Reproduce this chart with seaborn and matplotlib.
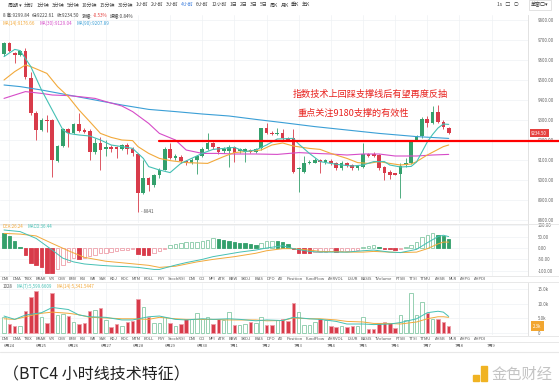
import numpy as np
import pandas as pd
import matplotlib
matplotlib.use("Agg")
import matplotlib.pyplot as plt
import matplotlib.transforms as mtransforms
from matplotlib.lines import Line2D
from matplotlib.patches import Rectangle
import seaborn as sns

# BTC 4h candles, 6/24 - 7/8
opens = [9630, 9687, 9637, 9623, 9647, 9508, 9333, 9250, 9302, 9300,
         9097, 9170, 9253, 9237, 9280, 9250, 9247, 9142, 9183, 9153,
         9163, 9163, 9157, 9173, 9157, 9130, 8937, 9010, 8973, 9023,
         9050, 9157, 9110, 9117, 9093, 9087, 9100, 9120, 9157, 9187,
         9163, 9143, 9147, 9163, 9143, 9140, 9150, 9140, 9158, 9258,
         9237, 9230, 9237, 9208, 9208, 9053, 9042, 9087, 9087, 9100,
         9092, 9097, 9083, 9058, 9083, 9075, 9058, 9063, 9130, 9130,
         9125, 9063, 9042, 9033, 9030, 9073, 9087, 9200, 9220, 9303,
         9287, 9342, 9292, 9258]
highs = [9692, 9692, 9640, 9650, 9660, 9541, 9345, 9310, 9325, 9305,
         9175, 9262, 9262, 9285, 9335, 9262, 9255, 9210, 9217, 9200,
         9175, 9170, 9180, 9185, 9165, 9137, 9100, 9015, 9030, 9060,
         9165, 9185, 9130, 9125, 9100, 9110, 9125, 9165, 9233, 9190,
         9165, 9165, 9175, 9170, 9160, 9160, 9155, 9160, 9262, 9285,
         9245, 9260, 9253, 9215, 9253, 9065, 9120, 9100, 9110, 9105,
         9105, 9105, 9090, 9095, 9090, 9080, 9075, 9183, 9135, 9140,
         9130, 9068, 9050, 9035, 9085, 9110, 9200, 9225, 9315, 9320,
         9370, 9377, 9300, 9265]
lows = [9620, 9640, 9587, 9620, 9503, 9325, 9200, 9245, 9240, 9017,
        9090, 9165, 9167, 9230, 9240, 9235, 9100, 9130, 9050, 9120,
        9140, 9108, 9150, 9130, 9120, 8841, 8930, 8945, 8965, 9010,
        9050, 9105, 9100, 9085, 9075, 9080, 9030, 9115, 9150, 9155,
        9130, 9135, 9067, 9090, 9135, 9090, 9135, 9135, 9150, 9230,
        9225, 9225, 9200, 9195, 9033, 8942, 9035, 9080, 9083, 9033,
        9080, 9075, 9050, 9050, 9065, 9050, 9050, 9060, 9115, 9115,
        9050, 9000, 9005, 9025, 8908, 9065, 9080, 9195, 9210, 9265,
        9280, 9285, 9255, 9228]
closes = [9687, 9647, 9623, 9647, 9517, 9333, 9250, 9300, 9297, 9100,
          9170, 9253, 9237, 9280, 9247, 9242, 9142, 9183, 9150, 9167,
          9157, 9157, 9173, 9157, 9133, 8937, 9010, 8973, 9023, 9050,
          9157, 9110, 9120, 9093, 9083, 9100, 9120, 9157, 9187, 9163,
          9140, 9157, 9167, 9137, 9157, 9153, 9140, 9153, 9258, 9237,
          9230, 9237, 9208, 9200, 9042, 9060, 9083, 9092, 9100, 9090,
          9100, 9083, 9058, 9087, 9070, 9058, 9070, 9130, 9120, 9120,
          9058, 9033, 9025, 9027, 9070, 9087, 9192, 9220, 9303, 9287,
          9342, 9292, 9267, 9234.5]
volume_k = [5.3, 3.0, 2.3, 2.3, 7.6, 12.2, 14.5, 5.5, 3.5, 13.8,
            6.1, 6.4, 5.8, 3.7, 3.0, 3.5, 7.6, 7.8, 8.4, 4.4,
            2.1, 3.0, 2.3, 3.7, 3.9, 11.7, 9.0, 5.3, 3.5, 3.5,
            5.5, 3.5, 2.3, 3.0, 4.6, 4.6, 6.7, 4.6, 5.3, 3.0,
            4.6, 4.4, 7.1, 2.8, 2.5, 3.0, 3.7, 3.5, 5.3, 2.8,
            2.5, 4.4, 4.6, 4.1, 10.4, 7.1, 2.6, 2.6, 3.7, 4.6,
            4.4, 2.3, 1.8, 2.3, 1.8, 2.3, 2.3, 5.5, 1.4, 1.4,
            3.5, 3.7, 3.2, 1.5, 6.0, 4.4, 13.8, 6.0, 10.6, 6.7,
            4.8, 4.8, 3.7, 2.3]
macd_hist = [67, 53, 32, 6, -32, -67, -76, -82, -108, -111,
             -94, -73, -61, -45, -48, -44, -35, -29, -23, -20,
             -18, -12, -8, -7, -6, -26, -29, -30, -23, -15,
             -6, 12, 18, 23, 25, 26, 27, 29, 35, 43,
             41, 35, 29, 28, 23, 20, 18, 12, 20, 29,
             32, 31, 26, 18, -4, -20, -23, -24, -18, -17,
             -16, -15, -16, -15, -12, -11, -9, 3, 9, 12,
             3, -3, -6, -9, -6, 3, 12, 26, 47, 56,
             64, 58, 53, 38]

# moving averages (candle index -> value)
ma7_idx = [0, 2, 3, 5, 7, 9, 11, 12, 14, 16, 18, 20, 22, 24, 26, 27, 29, 31, 33, 35,
           37, 39, 43, 45, 47, 49, 51, 54, 55, 57, 59, 61, 63, 65, 67, 69, 71, 72, 74, 76,
           77, 78, 79, 80, 81, 82, 83]
ma7 = [9617, 9653, 9647, 9567, 9450, 9350, 9250, 9233, 9225, 9220, 9200, 9175, 9167, 9158, 9108, 9067, 9050, 9037, 9083, 9108,
       9133, 9153, 9163, 9142, 9150, 9175, 9205, 9208, 9180, 9133, 9092, 9083, 9075, 9070, 9075, 9092, 9092, 9075, 9065, 9068,
       9090, 9140, 9190, 9228, 9260, 9280, 9278]
ma14_idx = [0, 2, 4, 5, 8, 10, 12, 14, 16, 18, 20, 22, 24, 25, 27, 29, 31, 34, 38, 41,
            43, 45, 48, 50, 52, 54, 57, 59, 61, 64, 66, 68, 70, 72, 74, 76, 77, 79, 81, 82, 83]
ma14 = [9500, 9542, 9575, 9567, 9533, 9467, 9417, 9350, 9292, 9233, 9213, 9200, 9197, 9167, 9133, 9108, 9097, 9087, 9083, 9117,
        9137, 9142, 9150, 9175, 9185, 9170, 9158, 9153, 9133, 9108, 9087, 9083, 9092, 9083, 9075, 9080, 9092, 9125, 9153, 9167, 9175]
ma30_idx = [0, 2, 4, 7, 9, 12, 14, 17, 19, 22, 24, 27, 29, 32, 34, 37, 40, 43, 47, 51,
            55, 58, 61, 64, 67, 70, 73, 77, 80, 83]
ma30 = [9408, 9425, 9442, 9433, 9425, 9422, 9417, 9408, 9392, 9370, 9342, 9283, 9233, 9200, 9150, 9133, 9133, 9130, 9130, 9128,
        9137, 9133, 9130, 9125, 9130, 9130, 9120, 9120, 9125, 9128]
ma90_idx = [0, 3, 7, 12, 17, 22, 27, 32, 37, 42, 47, 52, 58, 64, 70, 77, 83]
ma90 = [9475, 9467, 9450, 9425, 9400, 9375, 9353, 9342, 9330, 9320, 9303, 9287, 9267, 9250, 9233, 9217, 9208]

dif_idx = [0, 3, 6, 9, 11, 13, 15, 18, 20, 23, 25, 28, 29, 32, 34, 37, 39, 42, 44, 47,
           49, 52, 54, 57, 59, 62, 64, 67, 69, 72, 74, 77, 79, 81, 82, 83]
dif = [79, 72, 42, -9, -45, -61, -70, -76, -79, -82, -85, -94, -94, -75, -64, -50, -38, -26, -18, -9,
       0, 10, -3, -15, -18, -18, -18, -12, -9, -18, -20, -6, 23, 50, 56, 50]
dea_idx = [0, 3, 6, 9, 12, 15, 19, 23, 27, 29, 32, 36, 39, 43, 47, 49, 52, 54, 57, 59,
           62, 64, 67, 69, 72, 74, 77, 79, 81, 82, 83]
dea = [64, 61, 53, 20, -12, -41, -58, -67, -76, -85, -80, -61, -50, -38, -23, -12, -3, -3, -9, -15,
       -16, -18, -18, -15, -18, -20, -18, -3, 18, 26, 26]

vma_idx = [0, 2, 4, 7, 9, 12, 14, 16, 19, 22, 24, 27, 29, 32, 34, 37, 39, 42, 44, 47,
           49, 52, 54, 57, 59, 62, 64, 67, 69, 72, 74, 77, 79, 81, 82, 83]
vma7 = [5.75, 4.6, 6.1, 6.9, 8.7, 8.0, 6.1, 5.5, 5.3, 4.4, 4.4, 5.5, 5.75, 4.6, 4.4, 4.8, 4.6, 4.8, 4.6, 4.1,
        4.4, 4.2, 5.3, 4.8, 4.6, 3.9, 3.0, 3.0, 2.8, 3.0, 3.5, 4.8, 6.9, 7.4, 7.1, 5.6]
vma14 = [4.8, 4.6, 5.5, 6.7, 7.1, 6.7, 6.2, 5.3, 5.1, 4.8, 4.8, 4.6, 5.3, 4.8, 4.6, 4.6, 4.6, 4.4, 4.4, 4.4,
         4.1, 4.2, 5.1, 4.8, 4.8, 4.4, 3.9, 3.7, 3.2, 3.2, 3.0, 3.7, 4.8, 5.5, 5.5, 5.3]

day_labels = ["6月24", "6月25", "6月26", "6月27", "6月28", "6月29", "6月30", "7月1",
              "7月2", "7月3", "7月4", "7月5", "7月6", "7月7", "7月8", "7月9"]
price_ticks = [8800, 8900, 9000, 9100, 9200, 9300, 9400, 9500, 9600, 9700, 9800]
macd_ticks = [-100, -50, 0, 50, 100]
vol_ticks = [0, 5, 10, 15]
vol_tick_labels = ["0", "5.0k", "10.0k", "15.0k"]
indicator_names = ["DMI", "DMA", "TRIX", "BRAR", "VR", "OBV", "EMV", "RSI", "WR", "SAR", "KDJ",
                   "ROC", "MTM", "BOLL", "PSY", "StochRSI", "DMI", "CCI", "MFI", "ATR", "BBW",
                   "SKDJ", "BIAS", "DPO", "AD", "Position", "FundFlow", "AHRVOL", "LSUR",
                   "BASIS", "TVolume", "FTSB", "TTSI", "TTMU", "AHSB", "MLR", "AHPG", "AHPDI"]
periods = ["周期 ▾", "分时", "1分钟", "3分钟", "5分钟", "10分钟", "15分钟", "30分钟", "1小时",
           "2小时", "3小时", "4小时", "6小时", "12小时", "1日", "2日", "3日", "5日",
           "周K", "月K", "季K", "年K"]
active_period = "4小时"
quote_parts = [("8 高:9299.84", None), ("低:9222.61", None), ("收:9234.50", None),
               ("涨幅:", None), ("-0.53%", "#e5403e"), ("振幅:0.84%", None)]
support_level = 9195
support_start = 29

GREEN = "#34a06c"
RED = "#d83b4a"
LGREEN = "#86c9a6"
PINK = "#eea0aa"
C_MA7 = "#45c0b4"
C_MA14 = "#f2a93b"
C_MA30 = "#d64cc8"
C_MA90 = "#3b9fd6"
GRID = "#eef1f4"

sns.set_theme(style="white")
plt.rcParams['font.family'] = ['Noto Sans CJK SC', 'DejaVu Sans']
plt.rcParams['axes.unicode_minus'] = False

W, H = 559, 390
fig = plt.figure(figsize=(W / 100, H / 100), dpi=100)
fig.patch.set_facecolor("white")
renderer = fig.canvas.get_renderer()


def add_ax(top, bottom, left=0, right=528):
    return fig.add_axes([left / W, 1 - bottom / H, (right - left) / W, (bottom - top) / H])


def ftext(x, y, s, **kw):
    kw.setdefault("fontsize", 3.6)
    kw.setdefault("va", "center")
    kw.setdefault("color", "#444444")
    return fig.text(x / W, 1 - y / H, s, **kw)


def text_w(t):
    return t.get_window_extent(renderer).width


def hline(y, x0=0, x1=W, color="#e4e4e4", lw=0.6):
    fig.add_artist(Line2D([x0 / W, x1 / W], [1 - y / H, 1 - y / H], color=color, lw=lw))


df = pd.DataFrame({"open": opens, "high": highs, "low": lows, "close": closes,
                   "vol": volume_k, "macd": macd_hist})
df["i"] = np.arange(len(df))
df["up"] = df["close"] >= df["open"]
cols = np.where(df["up"], GREEN, RED)
day_pos = [1 + 6 * k for k in range(len(day_labels))]
xlim = (-0.75, 97.8)

ax_p = add_ax(15, 223)
ax_m = add_ax(224, 276)
ax_v = add_ax(283, 335)

for ax in (ax_p, ax_m, ax_v):
    ax.set_xlim(*xlim)
    ax.set_xticks(day_pos)
    ax.set_xticklabels([])
    ax.tick_params(axis="x", length=0)
    ax.yaxis.tick_right()
    ax.tick_params(axis="y", length=0, labelsize=3.2, labelcolor="#666666", pad=7)
    ax.grid(True, color=GRID, lw=0.5)
    ax.set_axisbelow(True)
    for s in ("top", "left", "bottom"):
        ax.spines[s].set_visible(False)
    ax.spines["right"].set_color("#dddddd")
    ax.spines["right"].set_linewidth(0.6)
    ax.set_facecolor("white")

# ---- price panel ----
ax_p.set_ylim(8785, 9825)
ax_p.set_yticks(price_ticks)
ax_p.set_yticklabels([f"{v:.2f}" for v in price_ticks])
ax_p.vlines(df["i"], df["low"], df["high"], colors=cols, lw=0.6, zorder=2)
body = np.maximum((df["close"] - df["open"]).abs(), 2.5)
ax_p.bar(df["i"], body, bottom=np.minimum(df["open"], df["close"]), width=0.68,
         color=cols, lw=0, zorder=3)
for xs, ys, c in ((ma90_idx, ma90, C_MA90), (ma30_idx, ma30, C_MA30),
                  (ma14_idx, ma14, C_MA14), (ma7_idx, ma7, C_MA7)):
    sns.lineplot(x=xs, y=ys, ax=ax_p, color=c, lw=0.8, zorder=4)
ax_p.plot([support_start, 104], [support_level, support_level], color="#ff0000",
          lw=1.6, clip_on=False, zorder=6)
ax_p.text(df["i"].iloc[25] + 0.5, df["low"].iloc[25], "- 8841", fontsize=3.2,
          color="#555555", va="center")
tr = mtransforms.blended_transform_factory(ax_p.transAxes, ax_p.transData)
ax_p.text(1.006, closes[-1], f"{closes[-1]:.2f}", transform=tr, fontsize=3.2, color="white",
          va="center", zorder=8, clip_on=False,
          bbox=dict(boxstyle="square,pad=0.35", fc="#e5403e", ec="none"))
ax_p.text(0.555, 0.62, "指数技术上回踩支撑线后有望再度反抽", transform=ax_p.transAxes,
          fontsize=6.6, color="#e8231f", va="center")
ax_p.text(0.563, 0.529, "重点关注9180支撑的有效性", transform=ax_p.transAxes,
          fontsize=6.6, color="#e8231f", va="center")

# ---- MACD panel ----
ax_m.set_ylim(-122.8, 105.3)
ax_m.set_yticks(macd_ticks)
ax_m.set_yticklabels([f"{v:.2f}" for v in macd_ticks])
prev = df["macd"].shift(1).fillna(df["macd"])
rising = df["macd"] > prev
pos = df["macd"] >= 0
face = np.where(pos, np.where(rising, "white", GREEN), np.where(rising, "white", RED))
edge = np.where(pos, np.where(rising, LGREEN, GREEN), np.where(rising, PINK, RED))
ax_m.bar(df["i"], df["macd"], width=0.65, color=face, edgecolor=edge, lw=0.6, zorder=3)
sns.lineplot(x=dea_idx, y=dea, ax=ax_m, color=C_MA14, lw=0.7, zorder=4)
sns.lineplot(x=dif_idx, y=dif, ax=ax_m, color=C_MA7, lw=0.7, zorder=4)

# ---- volume panel ----
ax_v.set_ylim(-0.79, 17.14)
ax_v.set_yticks(vol_ticks)
ax_v.set_yticklabels(vol_tick_labels)
vface = np.where(df["up"], "white", RED)
vedge = np.where(df["up"], LGREEN, PINK)
ax_v.bar(df["i"], df["vol"], width=0.65, color=vface, edgecolor=vedge, lw=0.6, zorder=3)
sns.lineplot(x=vma_idx, y=vma14, ax=ax_v, color=C_MA14, lw=0.7, zorder=4)
sns.lineplot(x=vma_idx, y=vma7, ax=ax_v, color=C_MA7, lw=0.7, zorder=4)
trv = mtransforms.blended_transform_factory(ax_v.transAxes, ax_v.transData)
ax_v.text(1.01, volume_k[-1], f"{volume_k[-1]:.1f}k", transform=trv, fontsize=3.2, color="white",
          va="center", zorder=8, clip_on=False,
          bbox=dict(boxstyle="square,pad=0.5", fc="#f2a630", ec="none"))
trd = mtransforms.blended_transform_factory(ax_v.transData, ax_v.transAxes)
for p, lab in zip(day_pos, day_labels):
    ax_v.text(p, -0.22, lab, transform=trd, fontsize=3.0, color="#555555",
              ha="center", va="center", clip_on=False)

for ax in (ax_p, ax_m, ax_v):
    ax.set_xlabel("")
    ax.set_ylabel("")

# ---- panel separators and indicator rows ----
hline(224)
hline(276)
hline(282)
hline(336)
hline(342)
for yy in (278.5, 338.5):
    items = [ftext(0, yy, name, fontsize=3.0, color="#555555") for name in indicator_names]
    widths = [text_w(t) for t in items]
    gap = (486 - 2 - sum(widths)) / (len(items) - 1)
    x = 2.0
    for t, w in zip(items, widths):
        t.set_x(x / W)
        x += w + gap

# ---- header texts ----
items = [ftext(0, 5, lab, fontsize=3.6,
               color="#3b7ddd" if lab == active_period else "#444444") for lab in periods]
widths = [text_w(t) for t in items]
gap = (310 - 8 - sum(widths)) / (len(items) - 1)
x = 8.0
for t, w in zip(items, widths):
    t.set_x(x / W)
    x += w + gap
ftext(497, 5, "1s   □   ○", fontsize=3.6)
ftext(531, 5, "单窗口▾", fontsize=3.6, color="#333333",
      bbox=dict(boxstyle="square,pad=0.4", fc="white", ec="#cccccc", lw=0.4))
x = 3.0
for s, c in quote_parts:
    t = ftext(x, 15.5, s, fontsize=3.3, color=c or "#444444")
    x += text_w(t) + (0.5 if s.endswith(":") else 2.5)
x = 3.0
for s, c in (("MA(14):9176.66", C_MA14), ("MA(30):9129.04", C_MA30), ("MA(90):9207.89", C_MA90)):
    t = ftext(x, 23, s, fontsize=3.3, color=c)
    x += text_w(t) + 4
x = 3.0
for s, c in (("DEA:26.24", C_MA14), ("MACD:36.44", C_MA7)):
    t = ftext(x, 226.5, s, fontsize=3.2, color=c)
    x += text_w(t) + 4
x = 3.0
for s, c in (("1028", "#555555"), ("MA(7):5,599.6609", C_MA7), ("MA(14):5,341.5447", C_MA14)):
    t = ftext(x, 286.5, s, fontsize=3.2, color=c)
    x += text_w(t) + 4

# ---- footer ----
hline(352, color="#e8e8e8", lw=0.8)
ftext(3, 375, "（BTC4 小时线技术特征）", fontsize=11.5, color="#222222")
fig.add_artist(Rectangle((473 / W, 1 - 381 / H), 6 / W, 6 / H, color="#f0b323",
                         transform=fig.transFigure))
fig.add_artist(Rectangle((481 / W, 1 - 381 / H), 6 / W, 15 / H, color="#f0b323",
                         transform=fig.transFigure))
ftext(492, 374, "金色财经", fontsize=11, color="#c4c4c4")

fig.savefig("out.png", dpi=100, facecolor="white")
